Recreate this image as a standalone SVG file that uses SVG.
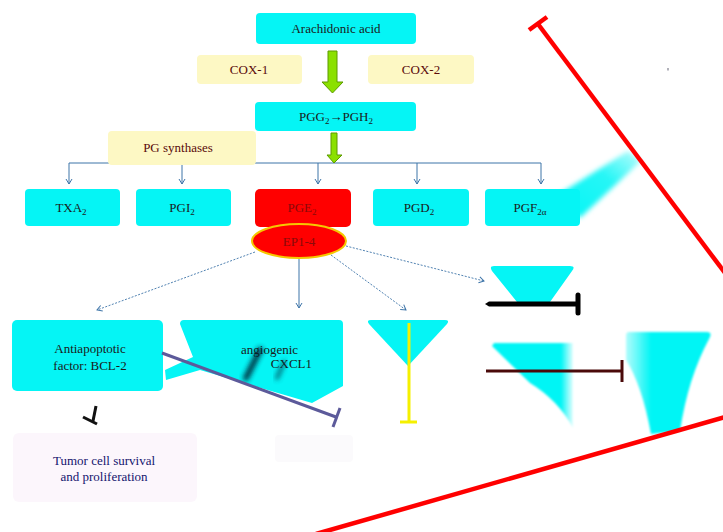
<svg xmlns="http://www.w3.org/2000/svg" width="723" height="532" viewBox="0 0 723 532">
<style>
.t{font-family:"Liberation Serif","Times New Roman",serif;font-size:13px;fill:#1a1a1a;text-anchor:middle}
.m{fill:#5a0a0a}
.dr{fill:#8a0a0a}
.cy{fill:#05f5f5}
.yb{fill:#fdf8c4}
.conn{stroke:#3d74a8;stroke-width:1;fill:none}
.dot{stroke:#3d74a8;stroke-width:0.9;fill:none;stroke-dasharray:2 1.5}
.ga{fill:#8be000;stroke:#5c9a00;stroke-width:1}
</style>
<defs>
<marker id="v" markerWidth="8" markerHeight="8" refX="6" refY="4" orient="auto" markerUnits="userSpaceOnUse">
<path d="M1,1 L6,4 L1,7" fill="none" stroke="#3d74a8" stroke-width="1"/>
</marker>
<filter id="soft" x="-20%" y="-20%" width="140%" height="140%"><feGaussianBlur stdDeviation="1.2"/></filter>
<filter id="blur3" x="-50%" y="-50%" width="200%" height="200%"><feGaussianBlur stdDeviation="2.5"/></filter>
<linearGradient id="ext" x1="0" y1="1" x2="1" y2="0">
<stop offset="0" stop-color="#05f5f5"/><stop offset="0.6" stop-color="#05f5f5" stop-opacity="0.85"/><stop offset="1" stop-color="#05f5f5" stop-opacity="0.25"/>
</linearGradient>
<linearGradient id="midg" x1="0" y1="0" x2="1" y2="0">
<stop offset="0" stop-color="#05f5f5"/><stop offset="0.85" stop-color="#05f5f5"/><stop offset="1" stop-color="#05f5f5" stop-opacity="0.1"/>
</linearGradient>
<linearGradient id="rg" x1="0" y1="0" x2="1" y2="0">
<stop offset="0" stop-color="#05f5f5" stop-opacity="0.3"/><stop offset="0.3" stop-color="#05f5f5"/><stop offset="1" stop-color="#05f5f5"/>
</linearGradient>
</defs>

<g id="connectors">
<line class="conn" x1="69" y1="163" x2="541" y2="163"/>
<line class="conn" x1="69" y1="163" x2="69" y2="184" marker-end="url(#v)"/>
<line class="conn" x1="182" y1="163" x2="182" y2="184" marker-end="url(#v)"/>
<line class="conn" x1="318" y1="163" x2="318" y2="184" marker-end="url(#v)"/>
<line class="conn" x1="417" y1="163" x2="417" y2="184" marker-end="url(#v)"/>
<line class="conn" x1="541" y1="163" x2="541" y2="184" marker-end="url(#v)"/>
<line class="dot" x1="255" y1="252" x2="97" y2="310" marker-end="url(#v)"/>
<line class="conn" x1="299" y1="258" x2="299" y2="308" marker-end="url(#v)"/>
<line class="dot" x1="331" y1="255" x2="406" y2="310" marker-end="url(#v)"/>
<line class="dot" x1="346" y1="246" x2="484" y2="281" marker-end="url(#v)"/>
</g>

<g id="arachidonic"><rect class="cy" x="256" y="13" width="160" height="31" rx="4"/><text class="t" x="336" y="33">Arachidonic acid</text></g>
<g id="cox1"><rect class="yb" x="197" y="55" width="105" height="29" rx="4"/><text class="t m" x="249" y="74">COX-1</text></g>
<g id="cox2"><rect class="yb" x="368" y="55" width="106" height="29" rx="4"/><text class="t m" x="421" y="74">COX-2</text></g>
<g id="arrow1"><path class="ga" d="M328,51 H337 V82 H343 L332.5,93 L322,82 H328 Z"/></g>
<g id="pgg2"><rect class="cy" x="255" y="102" width="161" height="29" rx="4"/><text class="t" x="336" y="121">PGG<tspan font-size="9" dy="3">2</tspan><tspan dy="-3">→PGH</tspan><tspan font-size="9" dy="3">2</tspan></text></g>
<g id="arrow2"><path class="ga" d="M331,133 H337 V155 H342 L334,163 L327,155 H331 Z"/></g>
<g id="pgsynthases"><rect class="yb" x="108" y="131" width="148" height="34" rx="4"/><text class="t m" x="178" y="152">PG synthases</text></g>

<g id="pgf2a-ext"><path d="M556,196 L628,151 L641,161 L580,218 Z" fill="url(#ext)" filter="url(#blur3)"/></g>
<g id="txa2"><rect class="cy" x="25" y="189" width="95" height="37" rx="4"/><text class="t" x="71" y="212">TXA<tspan font-size="9" dy="3">2</tspan></text></g>
<g id="pgi2"><rect class="cy" x="136" y="189" width="95" height="37" rx="4"/><text class="t" x="182" y="212">PGI<tspan font-size="9" dy="3">2</tspan></text></g>
<g id="pge2"><rect x="255" y="189" width="96" height="38" rx="5" fill="#ff0000"/><text class="t dr" x="302" y="212">PGE<tspan font-size="9" dy="3">2</tspan></text></g>
<g id="pgd2"><rect class="cy" x="373" y="189" width="96" height="37" rx="4"/><text class="t" x="419" y="212">PGD<tspan font-size="9" dy="3">2</tspan></text></g>
<g id="pgf2a"><rect class="cy" x="485" y="189" width="95" height="37" rx="4"/><text class="t" x="530" y="212">PGF<tspan font-size="9" dy="3">2α</tspan></text></g>
<g id="ep14"><ellipse cx="299" cy="241" rx="47" ry="17" fill="#ff0000" stroke="#f5c800" stroke-width="2"/><text class="t dr" x="299" y="246">EP1-4</text></g>

<g id="antiapoptotic"><rect class="cy" x="12" y="320" width="151" height="71" rx="5"/><text class="t" x="90" y="353">Antiapoptotic</text><text class="t" x="90" y="370">factor: BCL-2</text></g>
<g id="angiogenic">
<path class="cy" d="M184,320 H339 Q343,320 343,324 V386 L312,403 L200,370 L166,380 L165,370 L193,357 L180,324 Q180,320 184,320 Z"/>
<text class="t" x="241" y="354" style="text-anchor:start">angiogenic</text>
<text class="t" x="312" y="368" style="text-anchor:end">CXCL1</text>
<path d="M260,350 L246,378" stroke="#023" stroke-width="6" stroke-linecap="round" filter="url(#blur3)" opacity="0.9"/>
<path d="M284,362 L277,378" stroke="#034" stroke-width="4" stroke-linecap="round" filter="url(#blur3)" opacity="0.7"/>
</g>
<g id="purple-inhibit"><line x1="162" y1="353" x2="336" y2="417" stroke="#5c5a9a" stroke-width="3"/><line x1="340" y1="408" x2="333" y2="427" stroke="#5c5a9a" stroke-width="3"/></g>
<g id="black-tee"><line x1="96" y1="406" x2="93" y2="421" stroke="#111" stroke-width="3"/><line x1="83" y1="417" x2="97" y2="424" stroke="#111" stroke-width="3"/></g>
<g id="tumor"><rect x="13" y="433" width="184" height="69" rx="6" fill="#fcf6fc"/><text class="t" x="104" y="465" style="fill:#14146e">Tumor cell survival</text><text class="t" x="104" y="481" style="fill:#14146e">and proliferation</text></g>
<g id="faint-box"><rect x="275" y="435" width="78" height="27" rx="4" fill="#fbfafc"/></g>

<g id="funnel-left"><path class="cy" d="M371,320 H445 Q450,320 447,324 L408,366 L369,324 Q366,320 371,320 Z"/></g>
<g id="yellow-inhibit"><line x1="409" y1="323" x2="409" y2="422" stroke="#f5f000" stroke-width="3"/><line x1="400" y1="422" x2="417" y2="422" stroke="#f5f000" stroke-width="3"/></g>
<g id="trap-top"><path class="cy" d="M494,266 H570 Q576,266 572,271 L550,302 H517 L492,271 Q489,266 494,266 Z"/></g>
<g id="black-inhibit"><path d="M485,304 L489,301.5 H578 V306.5 H489 Z" fill="#000"/><line x1="578" y1="295" x2="578" y2="313" stroke="#000" stroke-width="5" stroke-linecap="round"/></g>
<g id="mid-shape"><path d="M494,343 H573 V428 Q558,400 530,383 L492,346 Z" fill="url(#midg)" filter="url(#soft)"/></g>
<g id="brown-inhibit"><line x1="486" y1="371" x2="622" y2="371" stroke="#4a0a0a" stroke-width="3"/><line x1="622" y1="360" x2="622" y2="382" stroke="#4a0a0a" stroke-width="3"/></g>
<g id="funnel-right"><path d="M629,332 H707 Q713,332 709,339 Q688,378 680,431 L651,434 Q642,385 626,360 V336 Q626,332 629,332 Z" fill="url(#rg)" filter="url(#soft)"/></g>

<g id="red-lines">
<line x1="538" y1="24" x2="725" y2="273" stroke="#f00" stroke-width="4.5"/>
<line x1="529" y1="30" x2="547" y2="17" stroke="#f00" stroke-width="4.5"/>
<line x1="316" y1="534" x2="725" y2="417" stroke="#f00" stroke-width="4.5"/>
</g>
<g id="dot-mark"><rect x="667.5" y="68" width="1" height="2.5" fill="#667"/></g>
</svg>
